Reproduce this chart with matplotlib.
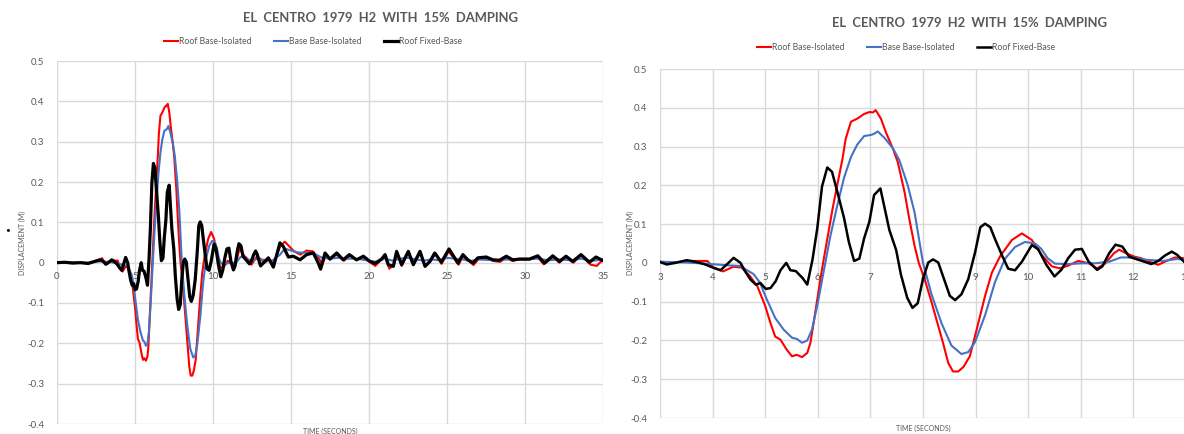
import numpy as np
import matplotlib.pyplot as plt

plt.rcParams['font.family'] = ['Lato', 'DejaVu Sans']

# Roof Fixed-Base displacement (m) against time (s)
black_t = [0.0, 0.5, 1.0, 1.5, 2.0, 2.5, 2.8, 3.0, 3.13, 3.29, 3.51, 3.67, 3.86, 4.02, 4.15, 4.27,
           4.4, 4.53, 4.62, 4.72, 4.82, 4.91, 5.01, 5.1, 5.2, 5.29, 5.4, 5.48, 5.58, 5.71, 5.8, 5.9,
           5.99, 6.08, 6.18, 6.27, 6.37, 6.5, 6.59, 6.69, 6.79, 6.88, 6.98, 7.07, 7.19, 7.27, 7.36,
           7.49, 7.58, 7.7, 7.8, 7.9, 8.0, 8.1, 8.19, 8.29, 8.38, 8.51, 8.61, 8.73, 8.86, 8.99, 9.09,
           9.18, 9.28, 9.37, 9.5, 9.62, 9.75, 9.88, 10.07, 10.19, 10.35, 10.5, 10.63, 10.76, 10.89,
           11.02, 11.15, 11.31, 11.41, 11.54, 11.66, 11.79, 11.92, 12.05, 12.21, 12.34, 12.47, 12.6,
           12.73, 12.83, 12.96, 13.05, 13.33, 13.55, 13.87, 14.29, 14.51, 14.83, 15.15, 15.58, 16.0,
           16.43, 16.75, 16.9, 17.18, 17.5, 17.93, 18.35, 18.74, 19.2, 19.64, 20.06, 20.38, 20.81,
           21.03, 21.24, 21.56, 21.77, 22.09, 22.52, 22.84, 23.27, 23.59, 23.91, 24.21, 24.64, 25.13,
           25.49, 25.7, 26.02, 26.34, 26.66, 26.98, 27.52, 27.94, 28.37, 28.8, 29.22, 29.65, 30.29,
           30.82, 31.25, 31.78, 32.21, 32.63, 33.06, 33.59, 34.13, 34.55, 35.0]
black_v = [0.0, 0.001, -0.001, 0.0, -0.002, 0.004, 0.007, 0.002, -0.004, 0.0, 0.007, 0.003, -0.004,
           -0.013, -0.019, -0.004, 0.013, 0.0, -0.022, -0.043, -0.056, -0.052, -0.067, -0.065, -0.047,
           -0.019, 0.0, -0.019, -0.021, -0.039, -0.056, 0.009, 0.089, 0.197, 0.246, 0.235, 0.184,
           0.115, 0.054, 0.005, 0.011, 0.063, 0.106, 0.175, 0.192, 0.141, 0.085, 0.033, -0.03, -0.09,
           -0.116, -0.104, -0.041, 0.001, 0.009, 0.001, -0.034, -0.085, -0.096, -0.081, -0.042, 0.027,
           0.092, 0.101, 0.092, 0.061, 0.02, -0.015, -0.019, 0.003, 0.046, 0.035, -0.006, -0.035,
           -0.018, 0.012, 0.034, 0.036, 0.003, -0.018, -0.009, 0.025, 0.047, 0.042, 0.016, 0.01,
           0.003, -0.003, 0.005, 0.019, 0.029, 0.021, 0.003, -0.008, 0.003, 0.012, -0.011, 0.049,
           0.04, 0.014, 0.016, 0.007, 0.02, 0.024, -0.001, -0.016, 0.024, 0.009, 0.024, 0.007, 0.02,
           0.007, 0.016, 0.003, -0.002, 0.009, 0.02, -0.005, -0.009, 0.028, -0.005, 0.028, -0.005,
           0.028, -0.009, 0.003, 0.024, 0.001, 0.034, 0.012, -0.001, 0.02, 0.007, -0.001, 0.012,
           0.014, 0.007, 0.006, 0.016, 0.007, 0.009, 0.009, 0.017, -0.001, 0.017, 0.003, 0.016,
           0.003, 0.02, 0.001, 0.014, 0.005]

# Roof Base-Isolated
red_t = [0.0, 1.0, 2.0, 2.5, 2.9, 3.0, 3.2, 3.5, 3.9, 4.0, 4.2, 4.39, 4.55, 4.71, 4.85, 5.0, 5.1,
         5.19, 5.29, 5.41, 5.51, 5.6, 5.7, 5.8, 5.86, 5.92, 6.0, 6.08, 6.18, 6.28, 6.37, 6.47, 6.53,
         6.63, 6.75, 6.88, 6.98, 7.05, 7.1, 7.2, 7.3, 7.43, 7.52, 7.65, 7.74, 7.84, 7.92, 8.03, 8.16,
         8.29, 8.38, 8.48, 8.57, 8.67, 8.77, 8.89, 9.02, 9.18, 9.31, 9.47, 9.69, 9.88, 10.07, 10.26,
         10.45, 10.6, 10.76, 10.95, 11.15, 11.31, 11.47, 11.63, 11.73, 11.86, 12.02, 12.15, 12.31,
         12.47, 12.63, 12.79, 12.96, 13.3, 13.6, 13.9, 14.3, 14.6, 14.9, 15.2, 15.6, 16.0, 16.4,
         16.8, 17.0, 17.2, 17.5, 17.9, 18.4, 18.8, 19.2, 19.6, 20.1, 20.4, 20.8, 21.0, 21.3, 21.6,
         21.8, 22.1, 22.5, 22.85, 23.3, 23.6, 23.9, 24.3, 24.65, 25.1, 25.5, 25.75, 26.0, 26.4,
         26.7, 27.0, 27.5, 28.0, 28.4, 28.8, 29.2, 29.6, 30.3, 30.8, 31.2, 31.8, 32.2, 32.6, 33.1,
         33.6, 34.2, 34.6, 35.0]
red_v = [0.0, 0.0, -0.001, 0.005, 0.011, 0.003, 0.0, 0.005, 0.005, -0.01, -0.022, -0.01, -0.012,
         -0.034, -0.06, -0.111, -0.155, -0.19, -0.198, -0.224, -0.241, -0.237, -0.243, -0.232,
         -0.206, -0.155, -0.085, -0.016, 0.061, 0.139, 0.2, 0.269, 0.32, 0.364, 0.372, 0.384, 0.389,
         0.388, 0.394, 0.372, 0.335, 0.294, 0.26, 0.182, 0.113, 0.044, 0.0, -0.042, -0.1, -0.163,
         -0.206, -0.258, -0.28, -0.28, -0.268, -0.241, -0.172, -0.085, -0.025, 0.018, 0.059, 0.076,
         0.059, 0.02, -0.009, -0.014, -0.007, 0.005, -0.001, -0.014, -0.001, 0.025, 0.034, 0.025,
         0.016, 0.012, 0.003, -0.005, 0.005, 0.014, 0.012, 0.0, 0.008, -0.003, 0.04, 0.052, 0.04,
         0.028, 0.02, 0.03, 0.028, 0.01, -0.005, 0.015, 0.008, 0.02, 0.005, 0.018, 0.008, 0.014,
         0.0, -0.008, 0.008, 0.018, -0.015, -0.005, 0.025, -0.008, 0.025, -0.005, 0.025, -0.01,
         0.005, 0.022, -0.003, 0.028, 0.008, -0.005, 0.015, 0.005, -0.006, 0.008, 0.012, 0.004,
         0.002, 0.012, 0.004, 0.008, 0.008, 0.014, -0.004, 0.014, 0.0, 0.014, 0.0, 0.018, -0.005,
         -0.008, 0.008]

# Base Base-Isolated
blue_t = [0.0, 1.0, 2.0, 2.5, 3.0, 3.5, 3.88, 4.26, 4.52, 4.78, 4.9, 5.03, 5.19, 5.35, 5.51, 5.6,
          5.7, 5.8, 5.89, 6.0, 6.12, 6.24, 6.37, 6.5, 6.63, 6.75, 6.88, 7.01, 7.07, 7.14, 7.27, 7.43,
          7.55, 7.71, 7.84, 8.0, 8.16, 8.35, 8.54, 8.73, 8.86, 8.99, 9.18, 9.37, 9.56, 9.75, 9.94,
          10.13, 10.25, 10.37, 10.51, 10.76, 11.02, 11.28, 11.54, 11.76, 11.99, 12.24, 12.57, 12.83,
          13.03, 13.8, 14.3, 14.6, 15.0, 15.5, 16.0, 16.5, 17.0, 17.5, 18.0, 18.5, 19.0, 19.5, 20.0,
          20.5, 21.0, 21.5, 22.0, 22.5, 23.0, 23.5, 24.0, 24.5, 25.0, 25.5, 26.0, 26.5, 27.0, 28.0,
          29.0, 30.0, 30.8, 31.5, 32.2, 33.0, 33.6, 34.2, 35.0]
blue_v = [0.0, 0.0, 0.0, 0.003, 0.003, 0.001, -0.002, -0.006, -0.008, -0.029, -0.051, -0.094,
          -0.142, -0.172, -0.193, -0.196, -0.206, -0.2, -0.172, -0.103, -0.016, 0.07, 0.148, 0.22,
          0.273, 0.305, 0.327, 0.33, 0.333, 0.339, 0.322, 0.295, 0.265, 0.2, 0.13, 0.0, -0.08,
          -0.155, -0.213, -0.235, -0.23, -0.204, -0.135, -0.049, 0.011, 0.041, 0.054, 0.05, 0.036,
          0.012, -0.002, -0.003, -0.001, -0.001, 0.003, 0.014, 0.014, 0.008, 0.005, 0.01, 0.008,
          0.005, 0.02, 0.035, 0.03, 0.025, 0.025, 0.022, 0.012, 0.01, 0.012, 0.01, 0.01, 0.008, 0.005,
          0.002, 0.01, 0.005, 0.01, 0.012, 0.008, 0.005, 0.008, 0.006, 0.012, 0.01, 0.008, 0.004,
          0.008, 0.006, 0.008, 0.008, 0.01, 0.006, 0.008, 0.006, 0.01, 0.004, 0.008]

series_names = ['Roof Base-Isolated', 'Base Base-Isolated', 'Roof Fixed-Base']
series_colors = ['#ff0000', '#4472c4', '#000000']
title_text = 'EL  CENTRO  1979  H2  WITH  15%  DAMPING'
text_grey = '#595959'
grid_grey = '#d9d9d9'

fig = plt.figure(figsize=(11.84, 4.34), dpi=100)
W, H = 1184, 434


def px_axes(x0, x1, y0, y1):
    return fig.add_axes([x0 / W, 1 - y1 / H, (x1 - x0) / W, (y1 - y0) / H])


def draw_panel(ax, xlim, xstep, lw_red, lw_black):
    lines = []
    lines += ax.plot(red_t, red_v, color=series_colors[0], lw=lw_red, zorder=3)
    lines += ax.plot(blue_t, blue_v, color=series_colors[1], lw=lw_red, zorder=3)
    lines += ax.plot(black_t, black_v, color=series_colors[2], lw=lw_black, zorder=4)
    ax.set_xlim(*xlim)
    ax.set_ylim(-0.4, 0.5)
    ax.set_xticks(np.arange(xlim[0], xlim[1] + 0.01, xstep))
    ax.set_yticks(np.arange(-0.4, 0.51, 0.1))
    ax.set_yticklabels(['-0.4', '-0.3', '-0.2', '-0.1', '0', '0.1', '0.2', '0.3', '0.4', '0.5'])
    ax.grid(True, color=grid_grey, lw=1.0)
    ax.set_axisbelow(True)
    for s in ax.spines.values():
        s.set_visible(False)
    ax.spines['bottom'].set_position(('data', 0))
    ax.tick_params(axis='both', length=0, labelsize=7, labelcolor=text_grey)
    ax.tick_params(axis='x', pad=7)
    ax.tick_params(axis='y', pad=9)
    return lines


def add_headers(lines, title_x, title_y, legend_x, legend_y):
    fig.text(title_x / W, 1 - title_y / H, title_text, ha='center', va='center', fontsize=9.4,
             fontweight='bold', color=text_grey)
    fig.legend(lines, series_names, loc='center', bbox_to_anchor=(legend_x / W, 1 - legend_y / H),
               ncol=3, frameon=False, fontsize=6.3, labelcolor=text_grey, handlelength=1.6,
               handletextpad=0.1, columnspacing=2.6)


# full record
ax1 = px_axes(57, 603, 61, 424)
lines = draw_panel(ax1, (0, 35), 5, 1.5, 2.3)
add_headers(lines, 381, 18, 313, 42)
fig.text(22 / W, 1 - 243 / H, 'DISPLACEMENT (M)', rotation=90, ha='center', va='center',
         fontsize=5, color=text_grey)
fig.text(330 / W, 1 - 431 / H, 'TIME (SECONDS)', ha='center', va='center', fontsize=5,
         color=text_grey)
fig.text(8 / W, 1 - 230 / H, '•', ha='center', va='center', fontsize=6, color='black')

# close-up of strong motion
ax2 = px_axes(660, 1186, 69, 418)
lines = draw_panel(ax2, (3, 13), 1, 1.5, 1.8)
add_headers(lines, 970, 23, 906, 48)
fig.text(630 / W, 1 - 243 / H, 'DISPLACEMENT (M)', rotation=90, ha='center', va='center',
         fontsize=5, color=text_grey)
fig.text(923 / W, 1 - 428 / H, 'TIME (SECONDS)', ha='center', va='center', fontsize=5,
         color=text_grey)

fig.savefig('out.png', dpi=100)
